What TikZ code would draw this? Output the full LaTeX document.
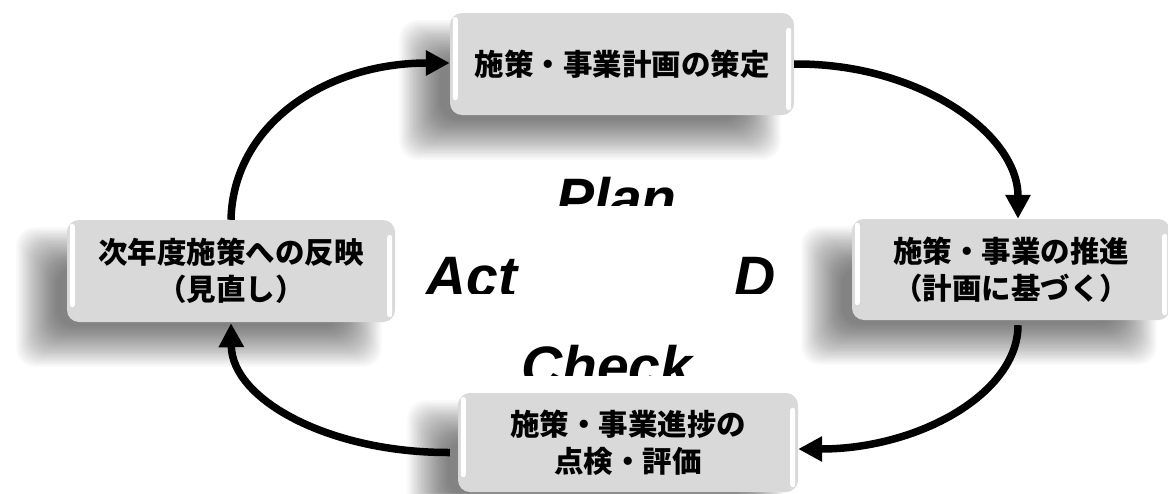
\documentclass[tikz,border=0pt]{standalone}
\usepackage{fontspec}
\newfontfamily\cjk{Noto Sans CJK JP}
\newfontfamily\lat{Liberation Sans}
\usetikzlibrary{arrows.meta,calc,backgrounds}
\definecolor{boxgray}{HTML}{D9D9D9}
\tikzset{
  box/.style={rounded corners=12pt, fill=boxgray, draw=none,
    font=\cjk\bfseries\fontsize{29.5}{37}\selectfont, align=center, inner sep=0pt},
  cyc/.style={line width=7.5pt, -{Triangle[length=24pt,width=24pt]}},
  pdca/.style={font=\lat\bfseries\itshape\fontsize{57}{60}\selectfont, inner sep=0pt, anchor=base west},
  gloss/.style={fill=white, rounded corners=2.5pt},
  softshadow/.style={fill=black, opacity=0.021, rounded corners=18pt}
}
\newcommand\glossy[1]{%
  \fill[gloss] ($(#1.north west)+(3,4)$) rectangle ($(#1.south west)+(8,-15)$);
  \fill[gloss] ($(#1.north east)+(-8,15)$) rectangle ($(#1.south east)+(-3,-5)$);}
\newcommand\softshadow[1]{%
  \foreach \k in {1,...,30}{%
    \pgfmathsetmacro\e{20-1.4*\k}%
    \fill[softshadow] ($(#1.north west)+(-32-\e,26-\e)$) rectangle ($(#1.south east)+(-32+\e,26+\e)$);}}
\begin{document}
\begin{tikzpicture}[x=1pt,y=-1pt]
\useasboundingbox (0,0) rectangle (1168,493);
% boxes
\node[box, minimum width=344pt, minimum height=102pt] (plan) at (622,64) {施策・事業計画の策定};
\node[box, minimum width=328pt, minimum height=102pt] (act) at (231,271) {次年度施策への反映\\（見直し）};
\node[box, minimum width=318pt, minimum height=101pt] (do) at (1011,269.5) {施策・事業の推進\\（計画に基づく）};
\node[box, minimum width=340pt, minimum height=99pt] (check) at (628,442.5) {施策・事業進捗の\\点検・評価};
\begin{pgfonlayer}{background}
  \fill[white] (0,0) rectangle (1168,493);
  \softshadow{plan}\softshadow{act}\softshadow{do}\softshadow{check}
\end{pgfonlayer}
\glossy{plan}\glossy{act}\glossy{do}\glossy{check}
% cycle arrows
\draw[cyc] (plan.east) .. controls (918,63) and (1018,133) .. ([xshift=7pt]do.north);
\draw[cyc] ([xshift=7pt,yshift=-5pt]do.south) .. controls (1018,393) and (919,449) .. ([yshift=-6.5pt]check.east);
\draw[cyc] ([xshift=-8pt,yshift=-10pt]check.west) .. controls (330,453) and (232,400) .. ([yshift=-1pt]act.south);
\draw[cyc] (act.north) .. controls (233,125) and (325,63) .. ([yshift=1pt]plan.west);
% PDCA labels (clipped as in the picture)
\begin{scope}
  \clip (540,160) rectangle (700,205);
  \node[pdca] (lplan) at (556,218) {Plan};
\end{scope}
\begin{scope}
  \clip (410,240) rectangle (545,293);
  \node[pdca] (lact) at (425,296) {Act};
\end{scope}
\begin{scope}
  \clip (720,240) rectangle (790,293);
  \node[pdca] (ldo) at (734,296) {D};
\end{scope}
\begin{scope}
  \clip (510,330) rectangle (710,375);
  \node[pdca] (lcheck) at (521,386) {Check};
\end{scope}
\end{tikzpicture}
\end{document}
